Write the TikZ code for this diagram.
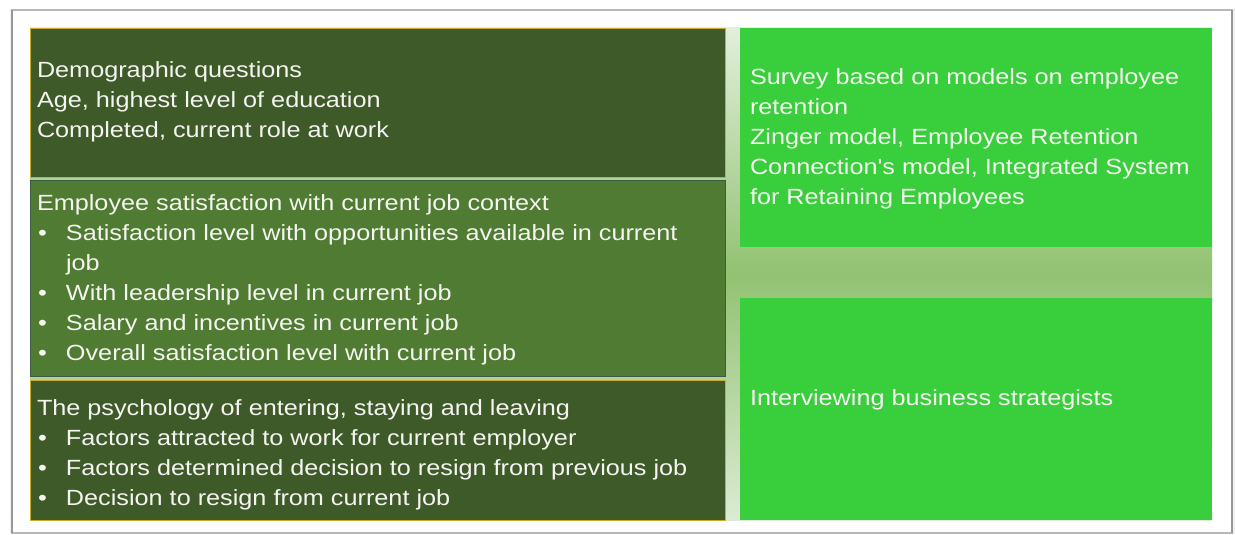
\documentclass[tikz,border=0pt]{standalone}
\usepackage{fontspec}
\newfontfamily\tf[FakeStretch=1.147]{Liberation Sans}
\usetikzlibrary{positioning}
\definecolor{dkgreen}{HTML}{3E5A28}
\definecolor{mdgreen}{HTML}{4F7B32}
\definecolor{brgreen}{HTML}{39CE3B}
\definecolor{gold}{HTML}{C9AC2C}
\definecolor{mdborder}{HTML}{3C5C44}
\definecolor{bgtop}{HTML}{E2EFDB}
\definecolor{bgmid}{HTML}{92C272}
\definecolor{bgbot}{HTML}{DCEBD3}
\definecolor{txtcol}{HTML}{F4F4F0}
\newcommand{\bitem}[1]{\makebox[29pt][l]{\hspace{1pt}\textbullet}#1}
\newcommand{\bcont}[1]{\hspace*{29pt}#1}
\tikzset{
  boxbase/.style={anchor=north west, inner sep=0pt, outer sep=0pt},
  darkbox/.style={boxbase, fill=dkgreen, draw=gold, line width=0.9pt},
  midbox/.style={boxbase, fill=mdgreen, draw=mdborder, line width=0.9pt},
  brightbox/.style={boxbase, fill=brgreen},
  txt/.style={anchor=base west, inner sep=0pt, outer sep=0pt, text=txtcol, font=\tf\fontsize{22}{30}\selectfont},
}
\begin{document}
\begin{tikzpicture}[x=1pt, y=-1pt]
\useasboundingbox (0,0) rectangle (1235,535);
% outer frame with shadow
\fill[black!6] (10,9) rectangle (1235,534);
\node[boxbase, fill=white, draw=black!28, line width=1.2pt, minimum width=1220pt, minimum height=523pt] (frame) at (12,10) {};
\draw[black!40, line width=1.6pt] (frame.north west) -- (frame.south west);
\draw[black!40, line width=1.6pt] (frame.north east) -- (frame.south east);
% background shaded strip
\node[boxbase, top color=bgtop, bottom color=bgbot, middle color=bgmid, minimum width=1182pt, minimum height=492pt] (bg) at (30,28) {};
% left boxes
\node[darkbox, minimum width=695pt, minimum height=149pt] (b1) at (30,28) {};
\node[midbox, minimum width=695pt, minimum height=196pt] (b2) at (30,180) {};
\node[darkbox, minimum width=695pt, minimum height=140pt] (b3) at (30,380) {};
% right boxes
\node[brightbox, minimum width=472pt, minimum height=219pt] (r1) at (740,28) {};
\node[brightbox, minimum width=472pt, minimum height=222pt] (r2) at (740,298) {};
% texts
\node[txt] (t1) at (37,77.5) {\parbox[t]{680pt}{Demographic questions\\Age, highest level of education\\Completed, current role at work}};
\node[txt] (t2) at (37,210.5) {\parbox[t]{680pt}{Employee satisfaction with current job context\\
\bitem{Satisfaction level with opportunities available in current}\\
\bcont{job}\\
\bitem{With leadership level in current job}\\
\bitem{Salary and incentives in current job}\\
\bitem{Overall satisfaction level with current job}}};
\node[txt] (t3) at (37,415.5) {\parbox[t]{680pt}{The psychology of entering, staying and leaving\\
\bitem{Factors attracted to work for current employer}\\
\bitem{Factors determined decision to resign from previous job}\\
\bitem{Decision to resign from current job}}};
\node[txt] (t4) at (750,84.5) {\parbox[t]{460pt}{Survey based on models on employee\\retention\\Zinger model, Employee Retention\\Connection's model, Integrated System\\for Retaining Employees}};
\node[txt] (t5) at (750,405.5) {\parbox[t]{460pt}{Interviewing business strategists}};
\end{tikzpicture}
\end{document}
